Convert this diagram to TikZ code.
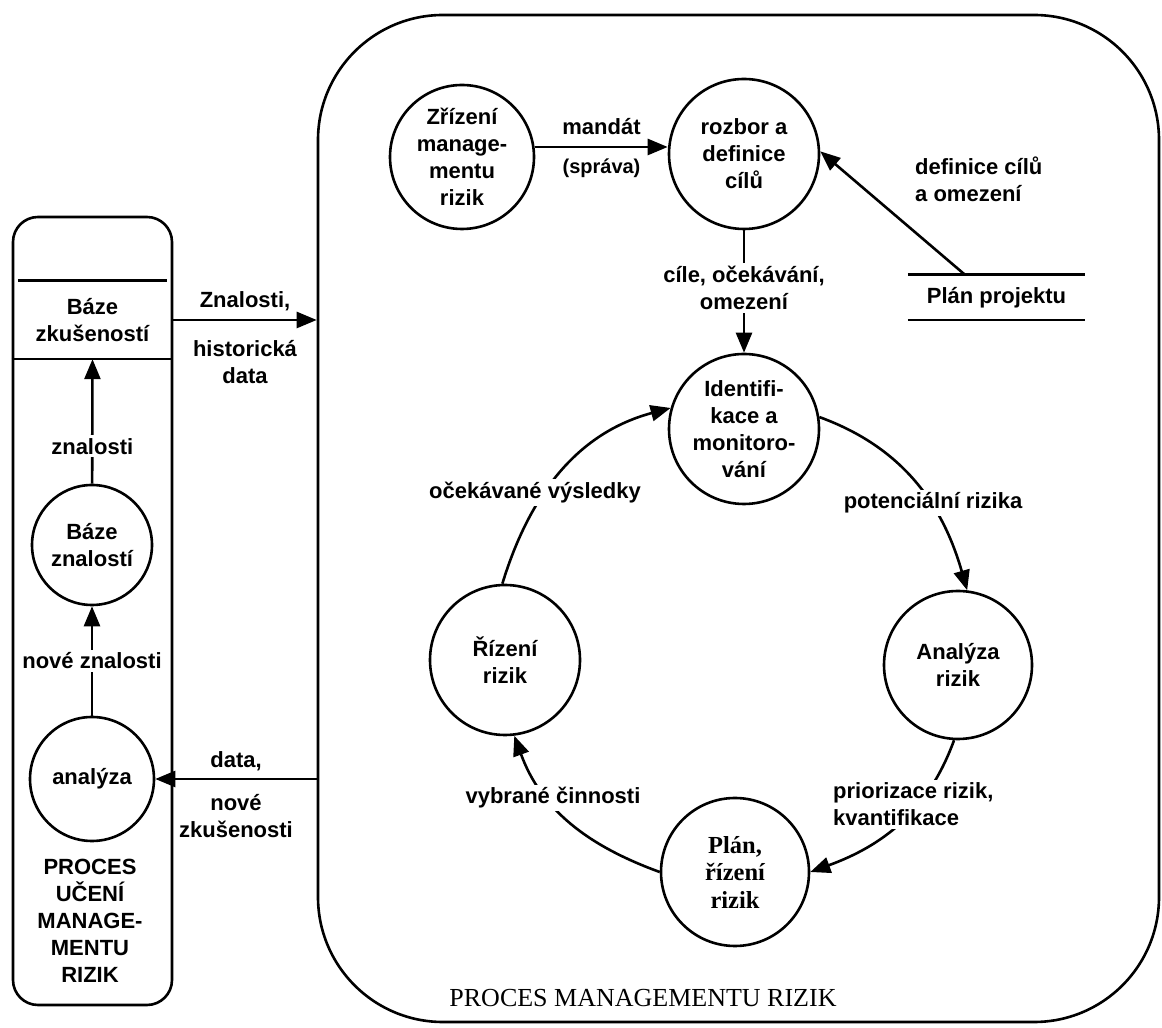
\documentclass[tikz,border=0pt]{standalone}
\usepackage{fontspec}
\setmainfont{Liberation Sans}
\newfontfamily\serifface{Liberation Serif}
\usetikzlibrary{arrows.meta}

\begin{document}
\begin{tikzpicture}[x=1pt,y=1pt,
  every node/.style={font=\bfseries\fontsize{22}{27}\selectfont,align=center,inner sep=2pt},
  ln/.style={line width=2.6pt},
  arr/.style={ln,-{Triangle[length=20pt,width=16pt]}},
  bubble/.style={ln,draw,circle,inner sep=0pt,minimum size=#1},
  lbl/.style={fill=white,inner sep=3pt},
  frame/.style={ln,draw,inner sep=0pt},
  small/.style={font=\bfseries\fontsize{20}{25}\selectfont}
]
\useasboundingbox (0,0) rectangle (1162,1028);

% --- outer frames ---
\node[frame,rounded corners=125pt,minimum width=841pt,minimum height=1007pt] (proc) at (738.5,509.5) {};
\node[frame,rounded corners=25pt,minimum width=159pt,minimum height=788pt] (learn) at (92.5,417) {};

% --- learning process (left column) ---
\node[minimum width=149pt,minimum height=78pt,inner sep=0pt] (bzk) at (92.5,708) {Báze\\zkušeností};
\draw[ln] (bzk.north west) -- (bzk.north east);
\draw[ln] (learn.west |- bzk.south) -- (learn.east |- bzk.south);

\node[bubble=120pt] (bz) at (92,483) {Báze\\znalostí};
\node[bubble=124pt] (ana) at (92,249) {analýza};
\node (learnt) at (90,107) {PROCES\\UČENÍ\\MANAGE-\\MENTU\\RIZIK};

\draw[arr] (ana) -- node[lbl]{nové znalosti} (bz);
\draw[arr] (bz) -- node[lbl,pos=0.3]{znalosti} (bzk.south);

\draw[arr] (learn.east |- bzk) -- node[above=6pt]{Znalosti,} node[below=17pt]{historická\\data} (proc.west |- bzk);
\draw[arr] (proc.west |- ana) -- node[above=5pt]{data,} node[below=12pt]{nové\\zkušenosti} (ana);

% --- risk management process ---
\node[bubble=144pt] (zriz) at (462,871) {Zřízení\\manage-\\mentu\\rizik};
\node[bubble=150pt] (rozbor) at (744,874) {rozbor a\\definice\\cílů};
\draw[arr] ([yshift=10pt]zriz.east) -- node[above=9pt]{mandát} node[below=9pt,small]{(správa)} ([yshift=7pt]rozbor.west);

\node[minimum width=177pt,minimum height=45pt,inner sep=0pt] (pp) at (996.5,730.5) {Plán projektu};
\draw[ln] (pp.north west) -- (pp.north east) (pp.south west) -- (pp.south east);
\coordinate (ppsrc) at ([xshift=-31.5pt]pp.north);
\draw[arr] (ppsrc) -- (rozbor.2);
\node[anchor=west,align=left] (defl) at (913,849) {definice cílů\\a omezení};

\node[bubble=150pt] (ident) at (744,599) {Identifi-\\kace a\\monitoro-\\vání};
\node[bubble=148pt] (anal) at (958,363) {Analýza\\rizik};
\node[bubble=148pt,font={\serifface\bfseries\fontsize{24.5}{27.5}\selectfont}] (plan) at (735,156) {Plán,\\řízení\\rizik};
\node[bubble=150pt] (riz) at (505,368) {Řízení\\rizik};

\draw[arr] (rozbor) -- node[lbl,pos=0.47]{cíle, očekávání,\\omezení} (ident);

% the cycle
\draw[arr] (ident.9) to[out=-20,in=106] (anal.83);
\draw[arr] (anal.267) to[out=-110,in=20] (plan.0);
\draw[arr] (plan.180) to[out=160,in=-70] (riz.277);
\draw[arr] (riz.92) to[out=73,in=195] (ident.164);

\node[lbl] (lpot) at (933,525) {potenciální rizika};
\node[lbl,anchor=west,align=left] (lpri) at (830,223.5) {priorizace rizik,\\kvantifikace};
\node[lbl] (lvyb) at (553,230) {vybrané činnosti};
\node[lbl] (locek) at (535,535) {očekávané výsledky};

\node[font={\serifface\fontsize{26}{30}\selectfont}] (ptitle) at (643,30) {PROCES MANAGEMENTU RIZIK};
\end{tikzpicture}
\end{document}
